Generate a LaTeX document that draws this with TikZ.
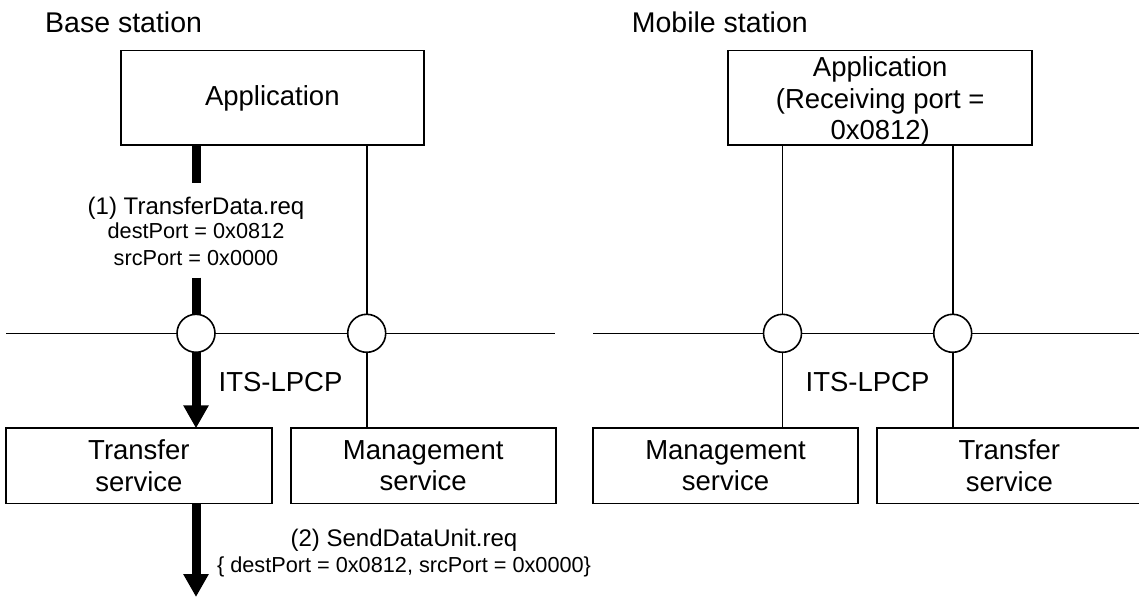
\documentclass[tikz,border=0pt]{standalone}
\usepackage{fontspec}
\setmainfont{Liberation Sans}
\usetikzlibrary{arrows.meta}
\begin{document}
\begin{tikzpicture}[x=1pt,y=-1pt,
  box/.style={draw, line width=1.9pt, inner sep=0pt, outer sep=0pt, align=center, font=\fontsize{27.5}{31.5}\selectfont},
  port/.style={draw, circle, line width=1.6pt, fill=white, minimum size=38pt, inner sep=0pt, outer sep=0pt},
  thinline/.style={line width=1.6pt},
  thickline/.style={line width=9pt},
  fat/.style={line width=9pt, -{Triangle[width=24pt,length=23pt]}},
  head/.style={font=\fontsize{28.5}{32}\selectfont, anchor=base west, inner sep=0pt},
  proto/.style={font=\fontsize{27.5}{30}\selectfont, anchor=base, inner sep=0pt},
  msg/.style={font=\fontsize{21.7}{26}\selectfont, align=center, anchor=north, inner sep=0pt}
]
\useasboundingbox (0,0) rectangle (1139,597);
\clip (0,0) rectangle (1139,597);

% headings
\node[head] (bst) at (45,32.5) {Base station};
\node[head] (mst) at (631.7,32.8) {Mobile station};

% boxes
\node[box, minimum width=303.3pt, minimum height=94.8pt] (bapp) at (272.3,97.9) {Application};
\node[box, minimum width=303.7pt, minimum height=94.8pt] (mapp) at (880.2,97.9) {\rule{0pt}{26pt}Application\\(Receiving port =\\0x0812)};
\node[box, minimum width=265.7pt, minimum height=75.2pt] (btr) at (138.9,465.9) {Transfer\\service};
\node[box, minimum width=265pt, minimum height=75.2pt] (bmg) at (423.2,465.9) {Management\\service};
\node[box, minimum width=264.4pt, minimum height=75.2pt] (mmg) at (725.5,465.9) {Management\\service};
\node[box, minimum width=265.3pt, minimum height=75.2pt] (mtr) at (1009.3,465.9) {Transfer\\service};

% protocol lines
\coordinate (bl) at (6,333.3);
\coordinate (br) at (555,333.3);
\coordinate (ml) at (593.3,333.3);
\coordinate (mr) at (1139,333.3);
\draw[thinline] (bl) -- (br);
\draw[thinline] (ml) -- (mr);

% ports
\node[port] (b1) at (196,333.3) {};
\node[port] (b2) at (366.7,333.3) {};
\node[port] (m1) at (782.5,333.3) {};
\node[port] (m2) at (952.7,333.3) {};

% thin connectors
\draw[thinline] (bapp.south -| b2) -- (b2.north);
\draw[thinline] (b2.south) -- (b2.south |- bmg.north);
\draw[thinline] (mapp.south -| m1) -- (m1.north);
\draw[thinline] (m1.south) -- (m1.south |- mmg.north);
\draw[thinline] (mapp.south -| m2) -- (m2.north);
\draw[thinline] (m2.south) -- (m2.south |- mtr.north);

% thick data path
\coordinate (g1) at (196,183);
\coordinate (g2) at (196,277.7);
\coordinate (bot) at (196,597);
\draw[thickline] (bapp.south -| b1) -- (g1);
\draw[thickline] (g2) -- (b1.north);
\draw[fat] (b1.south) -- (b1.south |- btr.north);
\draw[fat] (btr.south -| b1) -- (bot);

% labels
\node[proto] (bits) at (280.5,391) {ITS-LPCP};
\node[proto] (mits) at (867.5,391) {ITS-LPCP};
\node[msg] (msgone) at (196,196.5) {{\fontsize{24}{26}\selectfont (1) TransferData.req}\\[-1.7pt]destPort = 0x0812\\[1.4pt]srcPort = 0x0000};
\node[msg] (msgtwo) at (404,529.2) {{\fontsize{24}{26}\selectfont (2) SendDataUnit.req}\\\{ destPort = 0x0812, srcPort = 0x0000\}};
\end{tikzpicture}
\end{document}
